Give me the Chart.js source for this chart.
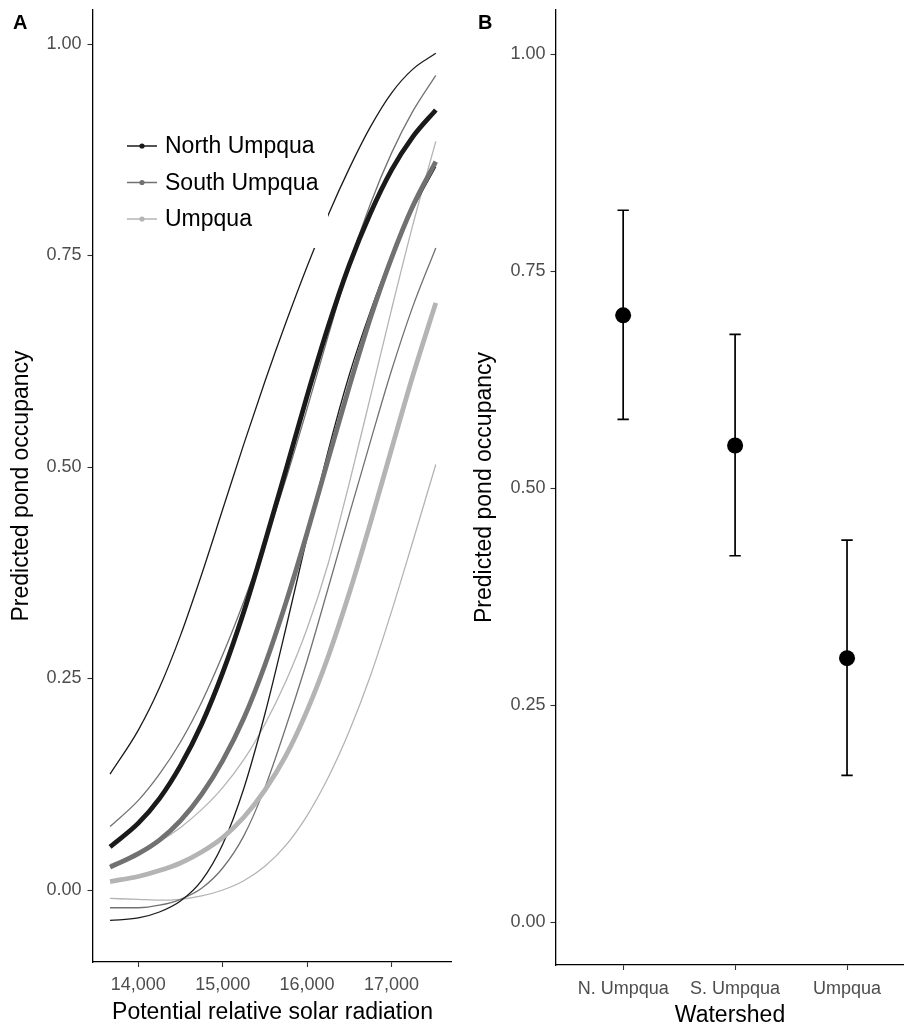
<!DOCTYPE html>
<html>
<head>
<meta charset="utf-8">
<script src="https://cdn.jsdelivr.net/npm/chart.js@4.4.1/dist/chart.umd.min.js"></script>
<style>
  html, body { margin: 0; padding: 0; background: #fff; }
  #wrap { position: relative; width: 904px; height: 1027px; overflow: hidden; }
  canvas { position: absolute; top: 0; }
  #panelA { left: 0; }
  #panelB { left: 452px; }
  .tag { position: absolute; font: bold 20px/20px "Liberation Sans", Arial, sans-serif; color: #000; }
</style>
</head>
<body>
<div id="wrap">
  <canvas id="panelA" width="452" height="1027" style="width:452px;height:1027px"></canvas>
  <canvas id="panelB" width="452" height="1027" style="width:452px;height:1027px"></canvas>
  <div class="tag" style="left:13px;top:12px">A</div>
  <div class="tag" style="left:478px;top:12px">B</div>
</div>
<script>
// --- panel A: fitted occupancy vs. solar radiation, with 95% bands ---
const radiation = [13665, 14000, 14250, 14500, 14750, 15000, 15250, 15500,
                   15750, 16000, 16250, 16500, 16750, 17000, 17250, 17525];

const northFit   = [0.051, 0.079, 0.108, 0.147, 0.196, 0.257, 0.329, 0.411, 0.497, 0.584, 0.666, 0.739, 0.800, 0.851, 0.890, 0.922];
const northUpper = [0.137, 0.189, 0.239, 0.301, 0.373, 0.450, 0.527, 0.601, 0.671, 0.737, 0.798, 0.853, 0.902, 0.942, 0.970, 0.989];
const northLower = [-0.036, -0.033, -0.026, -0.013, 0.011, 0.054, 0.120, 0.208, 0.310, 0.417, 0.519, 0.609, 0.684, 0.749, 0.804, 0.855];

const southFit   = [0.027, 0.043, 0.059, 0.082, 0.113, 0.153, 0.203, 0.266, 0.340, 0.422, 0.509, 0.595, 0.676, 0.747, 0.808, 0.861];
const southUpper = [0.075, 0.106, 0.137, 0.175, 0.222, 0.278, 0.341, 0.410, 0.486, 0.569, 0.655, 0.739, 0.811, 0.871, 0.920, 0.963];
const southLower = [-0.021, -0.021, -0.018, -0.011, 0.002, 0.026, 0.064, 0.121, 0.193, 0.271, 0.357, 0.444, 0.530, 0.614, 0.689, 0.759];

const umpquaFit   = [0.010, 0.016, 0.023, 0.032, 0.045, 0.062, 0.086, 0.118, 0.159, 0.212, 0.276, 0.351, 0.434, 0.521, 0.607, 0.694];
const umpquaUpper = [0.030, 0.043, 0.057, 0.074, 0.095, 0.121, 0.154, 0.196, 0.247, 0.309, 0.386, 0.481, 0.583, 0.686, 0.785, 0.885];
const umpquaLower = [-0.010, -0.011, -0.012, -0.011, -0.007, 0.000, 0.011, 0.028, 0.053, 0.088, 0.133, 0.188, 0.253, 0.329, 0.411, 0.503];

const radiationTicks = [14000, 15000, 16000, 17000];
const occupancyTicks = [0, 0.25, 0.5, 0.75, 1];

const legendNames = ['North Umpqua', 'South Umpqua', 'Umpqua'];
const shedColors = ['#1a1a1a', '#717171', '#b4b4b4'];

// --- panel B: mean occupancy per watershed with 95% CI ---
const watersheds = ['N. Umpqua', 'S. Umpqua', 'Umpqua'];
const occupancy = [0.699, 0.549, 0.304];
const ciLower = [0.579, 0.422, 0.169];
const ciUpper = [0.820, 0.677, 0.440];

const FONT = '"Liberation Sans", Arial, sans-serif';
const TICK_GREY = '#4d4d4d';

function curve(values, color, width, order) {
  return {
    data: radiation.map((x, i) => ({ x: x, y: values[i] })),
    borderColor: color,
    borderWidth: width,
    pointRadius: 0,
    fill: false,
    cubicInterpolationMode: 'monotone',
    order: order
  };
}

function noEdgePadding(s) {
  s.paddingTop = 0; s.paddingBottom = 0;
  s.paddingLeft = 0; s.paddingRight = 0;
}

// legend drawn inside the plot on a white box
const shedLegend = {
  id: 'shedLegend',
  afterDatasetsDraw(chart) {
    const ctx = chart.ctx;
    ctx.save();
    ctx.fillStyle = '#fff';
    ctx.fillRect(115, 126, 213, 122);
    legendNames.forEach((name, i) => {
      const y = 146 + i * 36.5;
      ctx.strokeStyle = shedColors[i];
      ctx.lineWidth = 1.5;
      ctx.beginPath();
      ctx.moveTo(127, y);
      ctx.lineTo(157, y);
      ctx.stroke();
      ctx.fillStyle = shedColors[i];
      ctx.beginPath();
      ctx.arc(142, y, 2.6, 0, Math.PI * 2);
      ctx.fill();
      ctx.fillStyle = '#000';
      ctx.font = '23px ' + FONT;
      ctx.textBaseline = 'middle';
      ctx.textAlign = 'left';
      ctx.fillText(name, 165, y + 1);
    });
    ctx.restore();
  }
};

new Chart(document.getElementById('panelA'), {
  type: 'line',
  data: {
    datasets: [
      curve(northUpper, shedColors[0], 1.3, 1),
      curve(northLower, shedColors[0], 1.3, 1),
      curve(southUpper, shedColors[1], 1.3, 1),
      curve(southLower, shedColors[1], 1.3, 1),
      curve(umpquaUpper, shedColors[2], 1.3, 1),
      curve(umpquaLower, shedColors[2], 1.3, 1),
      curve(northFit, shedColors[0], 4.8, 0),
      curve(southFit, shedColors[1], 4.8, 0),
      curve(umpquaFit, shedColors[2], 4.8, 0)
    ]
  },
  options: {
    responsive: false,
    animation: false,
    layout: { autoPadding: false, padding: { top: 10, left: 0, right: 0, bottom: 0 } },
    plugins: { legend: { display: false }, tooltip: { enabled: false } },
    scales: {
      x: {
        type: 'linear',
        min: 13463,
        max: 17717,
        afterBuildTicks: s => { s.ticks = radiationTicks.map(v => ({ value: v })); },
        afterFit: s => { s.height = 65; noEdgePadding(s); },
        grid: { drawOnChartArea: false, drawTicks: true, tickLength: 5, tickColor: '#333', tickWidth: 1.1 },
        border: { display: true, color: '#000', width: 1.3 },
        ticks: {
          color: TICK_GREY, font: { family: FONT, size: 18 }, padding: 7, maxRotation: 0,
          callback: v => v.toLocaleString('en-US')
        },
        title: {
          display: true, text: 'Potential relative solar radiation', color: '#000',
          font: { family: FONT, size: 23, lineHeight: 1 }, padding: { top: 0, bottom: 3 }
        }
      },
      y: {
        min: -0.0851,
        max: 1.0402,
        afterBuildTicks: s => { s.ticks = occupancyTicks.map(v => ({ value: v })); },
        afterFit: s => { s.width = 93; noEdgePadding(s); },
        grid: { drawOnChartArea: false, drawTicks: true, tickLength: 5.5, tickColor: '#333', tickWidth: 1.1 },
        border: { display: true, color: '#000', width: 1.3 },
        ticks: {
          color: TICK_GREY, font: { family: FONT, size: 18 }, padding: 6,
          callback: v => v.toFixed(2)
        },
        title: {
          display: true, text: 'Predicted pond occupancy', color: '#000',
          font: { family: FONT, size: 23, lineHeight: 1 }, padding: { top: 10, bottom: 0 }
        }
      }
    }
  },
  plugins: [shedLegend]
});

// vertical CI bars with end caps, placed through the chart scales
const ciBars = {
  id: 'ciBars',
  beforeDatasetsDraw(chart) {
    const { ctx, scales: { x, y } } = chart;
    ctx.save();
    ctx.strokeStyle = '#000';
    ctx.lineWidth = 1.7;
    occupancy.forEach((_, i) => {
      const px = x.getPixelForValue(i + 1);
      const top = y.getPixelForValue(ciUpper[i]);
      const bot = y.getPixelForValue(ciLower[i]);
      ctx.beginPath();
      ctx.moveTo(px, top); ctx.lineTo(px, bot);
      ctx.moveTo(px - 5.7, top); ctx.lineTo(px + 5.7, top);
      ctx.moveTo(px - 5.7, bot); ctx.lineTo(px + 5.7, bot);
      ctx.stroke();
    });
    ctx.restore();
  }
};

new Chart(document.getElementById('panelB'), {
  type: 'scatter',
  data: {
    datasets: [{
      data: occupancy.map((v, i) => ({ x: i + 1, y: v })),
      backgroundColor: '#000',
      borderWidth: 0,
      pointRadius: 8
    }]
  },
  options: {
    responsive: false,
    animation: false,
    layout: { autoPadding: false, padding: { top: 10, left: 0, right: 0, bottom: 0 } },
    plugins: { legend: { display: false }, tooltip: { enabled: false } },
    scales: {
      x: {
        type: 'linear',
        min: 0.4,
        max: 3.509,
        afterBuildTicks: s => { s.ticks = watersheds.map((_, i) => ({ value: i + 1 })); },
        afterFit: s => { s.height = 62; noEdgePadding(s); },
        grid: { drawOnChartArea: false, drawTicks: true, tickLength: 5, tickColor: '#333', tickWidth: 1.1 },
        border: { display: true, color: '#000', width: 1.3 },
        ticks: {
          color: TICK_GREY, font: { family: FONT, size: 18 }, padding: 8, maxRotation: 0,
          callback: v => watersheds[v - 1]
        },
        title: {
          display: true, text: 'Watershed', color: '#000',
          font: { family: FONT, size: 23, lineHeight: 1 }, padding: { top: 0, bottom: 0 }
        }
      },
      y: {
        min: -0.0495,
        max: 1.0507,
        afterBuildTicks: s => { s.ticks = occupancyTicks.map(v => ({ value: v })); },
        afterFit: s => { s.width = 104; noEdgePadding(s); },
        grid: { drawOnChartArea: false, drawTicks: true, tickLength: 5.5, tickColor: '#333', tickWidth: 1.1 },
        border: { display: true, color: '#000', width: 1.3 },
        ticks: {
          color: TICK_GREY, font: { family: FONT, size: 18 }, padding: 5,
          callback: v => v.toFixed(2)
        },
        title: {
          display: true, text: 'Predicted pond occupancy', color: '#000',
          font: { family: FONT, size: 23, lineHeight: 1 }, padding: { top: 21.5, bottom: 0 }
        }
      }
    }
  },
  plugins: [ciBars]
});
</script>
</body>
</html>
